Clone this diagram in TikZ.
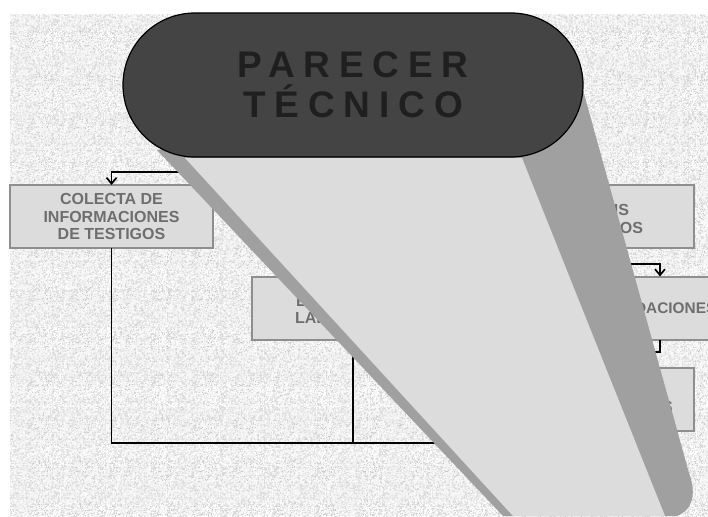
\documentclass[tikz,border=0pt]{standalone}
\usepackage{fontspec}
\setmainfont{Liberation Sans}
\usetikzlibrary{arrows.meta,patterns}
\definecolor{boxfill}{HTML}{DCDCDC}
\definecolor{boxline}{HTML}{8E8E8E}
\definecolor{boxtext}{HTML}{6E6E6E}
\definecolor{beamdark}{HTML}{A0A0A0}
\definecolor{pillfill}{HTML}{444444}
\definecolor{titletext}{HTML}{1F1F1F}
\definecolor{speckA}{HTML}{C8C8C8}
\definecolor{speckB}{HTML}{DADADA}
\definecolor{speckC}{HTML}{FFFFFF}
\definecolor{paper}{HTML}{F4F4F4}
\pgfmathsetseed{4711}
\newcommand{\specktile}[4]{%
  \pgfdeclarepatternformonly{#1}{\pgfpointorigin}{\pgfqpoint{#2pt}{#3pt}}{\pgfqpoint{#2pt}{#3pt}}{%
    \foreach \i in {1,...,#4}{%
      \pgfmathrandominteger{\ax}{0}{#2-1}\pgfmathrandominteger{\ay}{0}{#3-1}%
      \pgfpathrectangle{\pgfqpoint{\ax pt}{\ay pt}}{\pgfqpoint{1pt}{1pt}}%
      \pgfusepath{fill}}%
  }}
\specktile{speckleA}{41}{43}{330}
\specktile{speckleB}{47}{37}{360}
\specktile{speckleC}{53}{59}{800}
\tikzset{
  x=1pt,y=-1pt,
  stepbox/.style={draw=boxline,line width=2pt,fill=boxfill,minimum width=203pt,minimum height=63pt,inner sep=0pt,outer sep=0pt,
    text=boxtext,align=center,font=\fontsize{16}{17.7}\selectfont\bfseries},
  fragment/.style={text=boxtext,inner sep=0pt,outer sep=0pt,font=\fontsize{16}{17.7}\selectfont\bfseries},
  title/.style={draw=black,line width=1.2pt,fill=pillfill,rounded corners=72pt,minimum width=460pt,minimum height=144pt,inner sep=0pt,
    text=titletext,align=center,font=\fontsize{37}{40}\selectfont\bfseries\addfontfeatures{LetterSpace=24}},
  link/.style={draw=black,line width=1.7pt},
  tip/.style={-{Straight Barb[length=6pt,width=10pt]}},
}
\begin{document}
\begin{tikzpicture}
\useasboundingbox (0,0) rectangle (708,516);
\clip (0,0) rectangle (708,516);
% speckled ground
\fill[paper] (10,15) rectangle (708,516);
\fill[pattern=speckleA,pattern color=speckA] (10,15) rectangle (708,516);
\fill[pattern=speckleB,pattern color=speckB] (10,15) rectangle (708,516);
\fill[pattern=speckleC,pattern color=speckC] (10,15) rectangle (708,516);
% boxes
\node[stepbox] (testigos) at (111.5,216.5) {COLECTA DE\\INFORMACIONES\\DE TESTIGOS};
\node[stepbox] (analisis) at (592,216.5) {};
\node[stepbox] (lab) at (353,308) {};
\node[stepbox] (recom) at (660,308) {};
\node[stepbox] (final) at (592,399) {};
% visible pieces of the box texts
\node[fragment,anchor=base east] (fa) at (629,215) {IS};
\node[fragment,anchor=base east] (fb) at (643,233) {OS};
\node[fragment,anchor=base west] (fc) at (296,306) {E};
\node[fragment,anchor=base west] (fd) at (295,323) {LAB};
\node[fragment,anchor=base west,font=\fontsize{15.4}{17}\selectfont\bfseries] (fe) at (635,313) {DACIONES};
\node[fragment,anchor=base west] (ff) at (662,412) {S};
% connectors
\coordinate (hubtop) at (353,172);
\coordinate (hubright) at (592,264);
\coordinate (hubmid) at (660,352);
\coordinate (hubbot) at (592,443);
\draw[link,tip] (hubtop) -| (testigos.north);
\draw[link] (analisis.south) -- (hubright);
\draw[link,tip] (hubright) -| (recom.north);
\draw[link] (recom.south) -- (hubmid) -| (final.north);
\draw[link] (testigos.south) |- (hubbot) -- (final.south);
\draw[link] (lab.south) -- (lab.south |- hubbot);
% beam
\fill[beamdark] (157,150) -- (503,516) -- (677,516)
  .. controls (692,510) and (697,495) .. (689,473) -- (583,90) -- cycle;
\fill[boxfill] (185,158) -- (513,516) -- (665,516) -- (522,158) -- cycle;
% title
\node[title] (pill) at (353,85) {PARECER\\TÉCNICO};
\end{tikzpicture}
\end{document}
